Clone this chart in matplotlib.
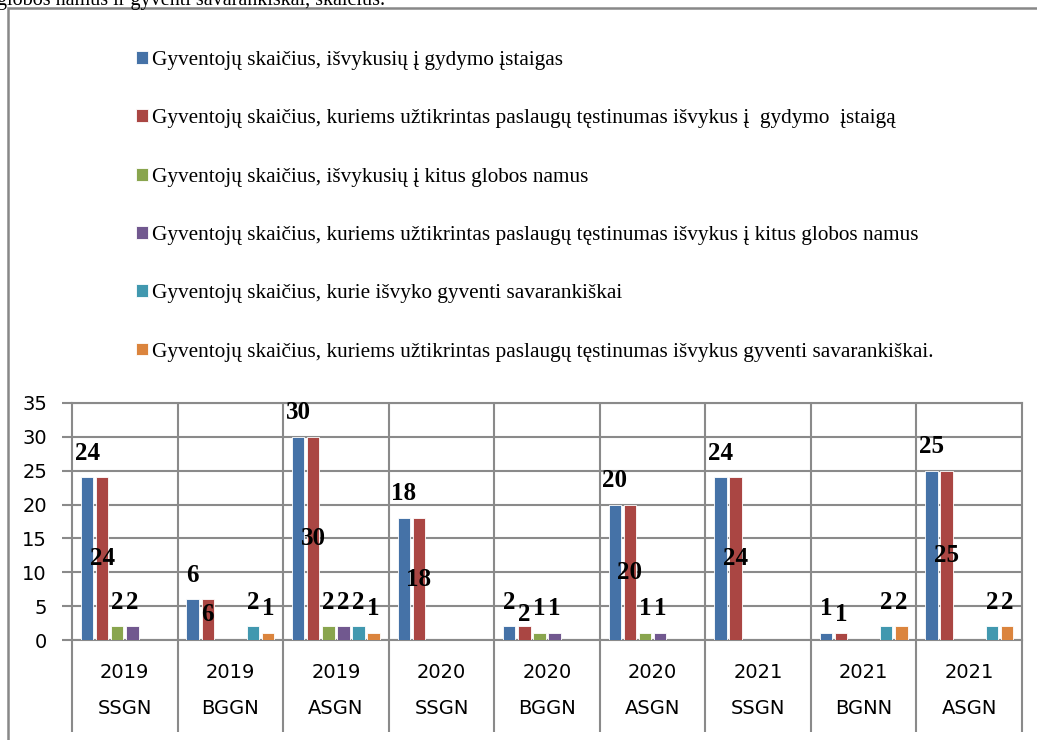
import numpy as np
import matplotlib
matplotlib.use("Agg")
import matplotlib.pyplot as plt
from matplotlib.patches import Rectangle

# data
years = ["2019", "2019", "2019", "2020", "2020", "2020", "2021", "2021", "2021"]
groups = ["SSGN", "BGGN", "ASGN", "SSGN", "BGGN", "ASGN", "SSGN", "BGNN", "ASGN"]

series_names = [
    "Gyventojų skaičius, išvykusių į gydymo įstaigas",
    "Gyventojų skaičius, kuriems užtikrintas paslaugų tęstinumas išvykus į  gydymo  įstaigą",
    "Gyventojų skaičius, išvykusių į kitus globos namus",
    "Gyventojų skaičius, kuriems užtikrintas paslaugų tęstinumas išvykus į kitus globos namus",
    "Gyventojų skaičius, kurie išvyko gyventi savarankiškai",
    "Gyventojų skaičius, kuriems užtikrintas paslaugų tęstinumas išvykus gyventi savarankiškai.",
]
to_hospital      = [24, 6, 30, 18, 2, 20, 24, 1, 25]
to_hospital_cont = [24, 6, 30, 18, 2, 20, 24, 1, 25]
to_other_home    = [2, 0, 2, 0, 1, 1, 0, 0, 0]
to_other_cont    = [2, 0, 2, 0, 1, 1, 0, 0, 0]
independent      = [0, 2, 2, 0, 0, 0, 0, 2, 2]
independent_cont = [0, 1, 1, 0, 0, 0, 0, 2, 2]
values = [to_hospital, to_hospital_cont, to_other_home, to_other_cont,
          independent, independent_cont]

COLORS = ["#4572A7", "#AA4643", "#89A54E", "#71588F", "#4198AF", "#DB843D"]
GRID = "#8a8a8a"
W, H = 1037, 740

fig = plt.figure(figsize=(W / 100, H / 100), dpi=100)
ax = fig.add_axes([72 / W, (H - 640) / H, (1022 - 72) / W, (640 - 403) / H])

n_cat = len(years)
n_ser = len(values)
slot = 1.0 / (n_ser + 1)
index = np.arange(n_cat)

handles = []
for k, vals in enumerate(values):
    xs = index + slot * (k + 1)
    bars = ax.bar(xs, vals, slot * 0.82, color=COLORS[k], edgecolor="white",
                  linewidth=0.6, label=series_names[k], zorder=3)
    handles.append(bars)
    for x, v in zip(xs, vals):
        if v == 0:
            continue
        if k == 1:
            # second series: label centred in the bar
            ax.text(x, max(v / 2.0, 3.7), str(v), ha="center", va="center",
                    family="Liberation Serif", weight="bold", fontsize=18, zorder=4)
        else:
            ax.annotate(str(v), (x, v), xytext=(0, 17.5), textcoords="offset points",
                        ha="center", va="center", family="Liberation Serif",
                        weight="bold", fontsize=18, zorder=4)

ax.set_xlim(0, n_cat)
ax.set_ylim(0, 35)
ax.set_yticks(range(0, 36, 5))
ax.set_xticks([])
ax.set_axisbelow(True)
ax.grid(axis="y", color=GRID, linewidth=1.5, zorder=0)
for b in range(1, n_cat):
    ax.axvline(b, color=GRID, linewidth=1.5, zorder=0)
for s in ax.spines.values():
    s.set_color(GRID)
    s.set_linewidth(1.5)
ax.tick_params(axis="y", length=7, width=1.5, color=GRID, pad=11,
               labelsize=14)
for lab in ax.get_yticklabels():
    lab.set_family("DejaVu Sans")

# two-level category axis
tr = ax.get_xaxis_transform()
ax.vlines(range(0, n_cat + 1), 0, -92 / 237.0, transform=tr, color=GRID,
          linewidth=1.5, clip_on=False)
for i in range(n_cat):
    ax.text(i + 0.5, -32 / 237.0, years[i], transform=tr, ha="center",
            va="center", fontsize=14, family="DejaVu Sans")
    ax.text(i + 0.5, -69 / 237.0, groups[i], transform=tr, ha="center",
            va="center", fontsize=14, family="DejaVu Sans")

# legend
fig.legend(handles=handles, loc="upper left",
           bbox_to_anchor=(136 / W, (H - 51) / H), frameon=False,
           prop={"family": "Liberation Serif", "size": 15.3},
           handlelength=0.55, handleheight=0.55, handletextpad=0.2,
           labelspacing=1.85, borderpad=0, borderaxespad=0)

# surrounding frame and document text
fig.add_artist(Rectangle((8 / W, -0.1), 1.2, 1.1 - 8 / H, transform=fig.transFigure,
                         fill=False, edgecolor="#888888", linewidth=1.8))
fig.text(-3 / W, 1 - 5 / H, "globos namus ir gyventi savarankiškai, skaičius.",
         family="Liberation Serif", fontsize=14.5, va="baseline", ha="left")

plt.savefig("out.png", dpi=100)
